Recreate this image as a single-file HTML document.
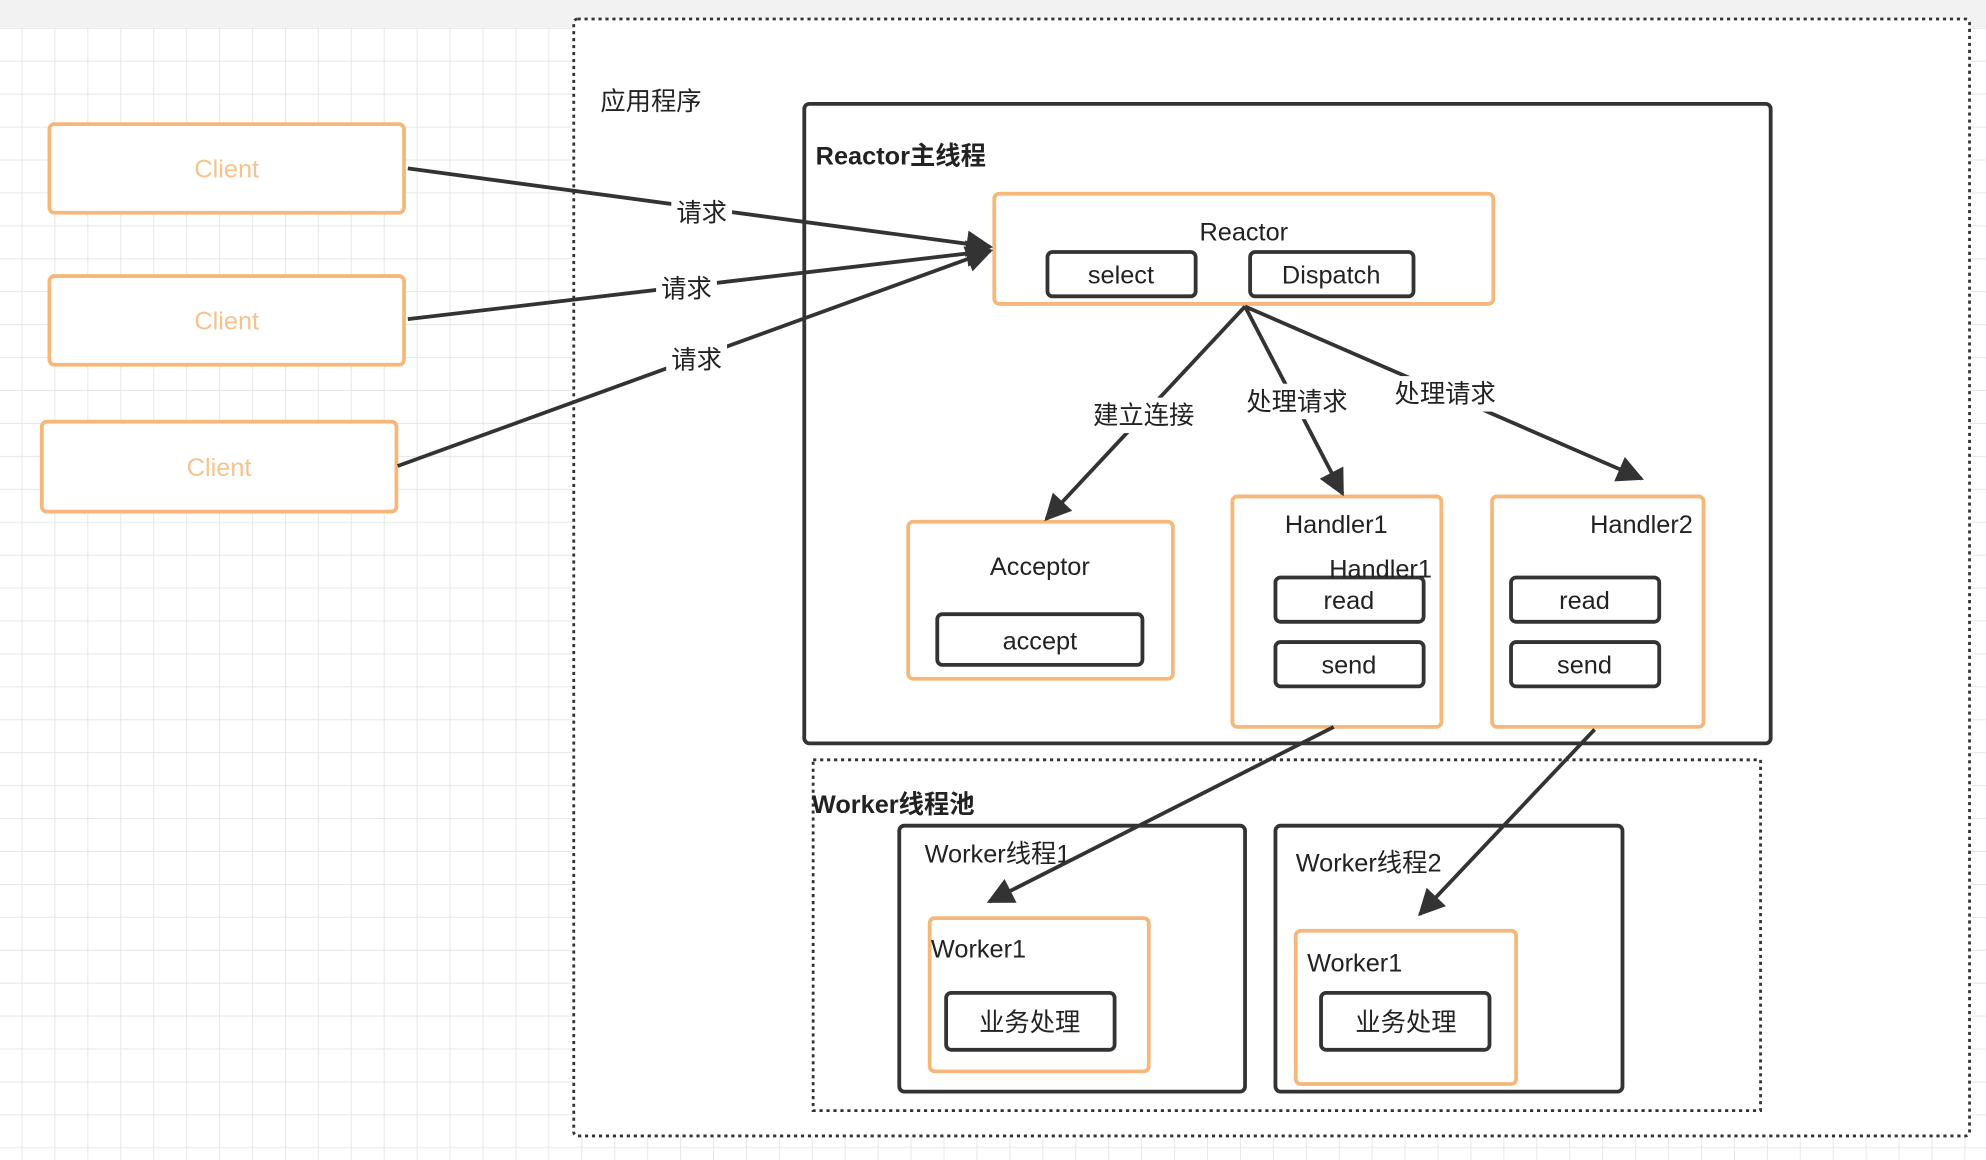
<!DOCTYPE html>
<html><head><meta charset="utf-8"><style>
html,body{margin:0;padding:0;background:#fff;}
svg{display:block;}
text{font-family:"Liberation Sans","Noto Sans CJK SC",sans-serif;fill:#222;}
</style></head><body>
<svg width="1986" height="1160" viewBox="0 0 1568 916" preserveAspectRatio="none" xmlns="http://www.w3.org/2000/svg">
<defs>
<pattern id="g" x="17" y="22" width="26" height="26" patternUnits="userSpaceOnUse">
<path d="M0 0V26M0 0H26" stroke="#e3e3e3" stroke-width="1.3" fill="none"/>
</pattern>
<marker id="a" viewBox="0 0 10 10" refX="9" refY="5" markerWidth="8" markerHeight="7" orient="auto" markerUnits="strokeWidth">
<path d="M0 0L10 5L0 10z" fill="#333"/>
</marker>
</defs>
<rect x="0" y="0" width="1568" height="916" fill="url(#g)"/>
<rect x="0" y="0" width="1568" height="22" fill="#f2f2f2"/>
<rect x="453" y="15" width="1102" height="882" fill="#fff" stroke="#333" stroke-width="2.2" stroke-dasharray="2.5 3" rx="3"/>
<text x="474" y="87" font-size="20">应用程序</text>

<g fill="#fff" stroke="#f5b87a" stroke-width="3">
<rect x="39" y="98" width="280" height="70" rx="4"/>
<rect x="39" y="218" width="280" height="70" rx="4"/>
<rect x="33" y="333" width="280" height="71" rx="4"/>
</g>
<g font-size="20" text-anchor="middle">
<text x="179" y="140" style="fill:#f7c28e">Client</text>
<text x="179" y="260" style="fill:#f7c28e">Client</text>
<text x="173" y="376" style="fill:#f7c28e">Client</text>
</g>

<rect x="635" y="82" width="763" height="505" rx="4" fill="none" stroke="#333" stroke-width="3"/>
<text x="644" y="130" font-size="20" font-weight="bold">Reactor主线程</text>

<g fill="#fff" stroke="#f5b87a" stroke-width="3">
<rect x="785" y="153" width="394" height="87" rx="4"/>
<rect x="717" y="412" width="209" height="124" rx="4"/>
<rect x="973" y="392" width="165" height="182" rx="4"/>
<rect x="1178" y="392" width="167" height="182" rx="4"/>
</g>
<g fill="#fff" stroke="#333" stroke-width="3">
<rect x="827" y="199" width="117" height="35" rx="4"/>
<rect x="987" y="199" width="129" height="35" rx="4"/>
<rect x="740" y="485" width="162" height="40" rx="4"/>
<rect x="1007" y="456" width="117" height="35" rx="4"/>
<rect x="1007" y="507" width="117" height="35" rx="4"/>
<rect x="1193" y="456" width="117" height="35" rx="4"/>
<rect x="1193" y="507" width="117" height="35" rx="4"/>
</g>
<g font-size="20" text-anchor="middle">
<text x="982" y="190">Reactor</text>
<text x="885" y="224">select</text>
<text x="1051" y="224">Dispatch</text>
<text x="821" y="454">Acceptor</text>
<text x="821" y="513">accept</text>
<text x="1055" y="421">Handler1</text>
<text x="1090" y="456">Handler1</text>
<text x="1065" y="481">read</text>
<text x="1065" y="532">send</text>
<text x="1296" y="421">Handler2</text>
<text x="1251" y="481">read</text>
<text x="1251" y="532">send</text>
</g>

<rect x="642" y="600" width="748" height="277" fill="none" stroke="#333" stroke-width="2.2" stroke-dasharray="2.5 3"/>
<text x="641" y="642" font-size="20" font-weight="bold">Worker线程池</text>
<g fill="#fff" stroke="#333" stroke-width="3">
<rect x="710" y="652" width="273" height="210" rx="4"/>
<rect x="1007" y="652" width="274" height="210" rx="4"/>
</g>
<g fill="#fff" stroke="#f5b87a" stroke-width="3">
<rect x="734" y="725" width="173" height="121" rx="4"/>
<rect x="1023" y="735" width="174" height="121" rx="4"/>
</g>
<g fill="#fff" stroke="#333" stroke-width="3">
<rect x="747" y="784" width="133" height="45" rx="4"/>
<rect x="1043" y="784" width="133" height="45" rx="4"/>
</g>
<g font-size="20">
<text x="730" y="681">Worker线程1</text>
<text x="1023" y="688">Worker线程2</text>
<text x="735" y="756">Worker1</text>
<text x="1032" y="767">Worker1</text>
<text x="813" y="814" text-anchor="middle">业务处理</text>
<text x="1110" y="814" text-anchor="middle">业务处理</text>
</g>

<g stroke="#333" stroke-width="3" fill="none" marker-end="url(#a)">
<path d="M322 133L782 195"/>
<path d="M322 252L782 198"/>
<path d="M314 368L782 198"/>
<path d="M983 242L826 410"/>
<path d="M983 242L1060 390"/>
<path d="M983 242L1296 378"/>
<path d="M1053 574L781 712"/>
<path d="M1259 576L1121 722"/>
</g>
<g font-size="20" text-anchor="middle">
<rect x="530" y="154" width="48" height="26" fill="#fff"/>
<text x="554" y="175">请求</text>
<rect x="518" y="215" width="48" height="26" fill="#fff"/>
<text x="542" y="235">请求</text>
<rect x="526" y="271" width="48" height="26" fill="#fff"/>
<text x="550" y="291">请求</text>
<rect x="857" y="314" width="92" height="28" fill="#fff"/>
<text x="903" y="335">建立连接</text>
<rect x="978" y="303" width="92" height="28" fill="#fff"/>
<text x="1024" y="324">处理请求</text>
<rect x="1095" y="297" width="92" height="28" fill="#fff"/>
<text x="1141" y="318">处理请求</text>
</g>
</svg>
</body></html>
